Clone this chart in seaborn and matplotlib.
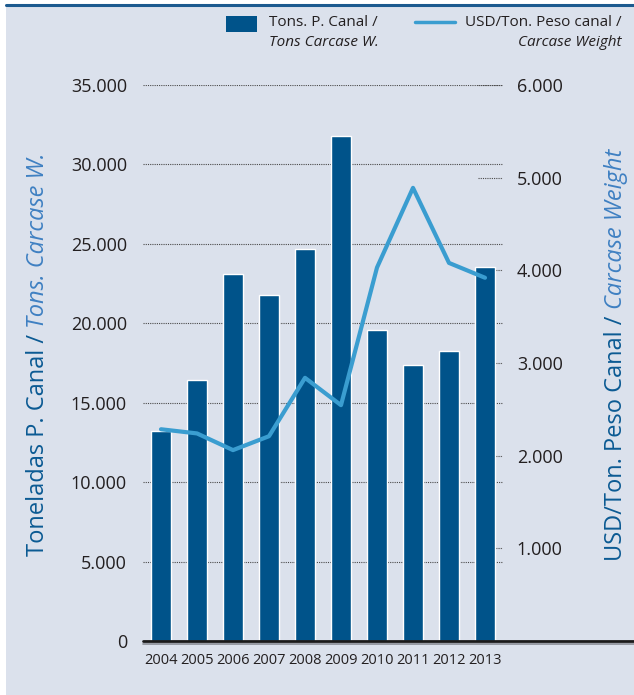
import numpy as np
import pandas as pd
import matplotlib
matplotlib.use("Agg")
import matplotlib.pyplot as plt
import seaborn as sns
from matplotlib.ticker import FuncFormatter
from matplotlib.patches import Rectangle
from matplotlib.lines import Line2D

# data
years = ["2004", "2005", "2006", "2007", "2008", "2009", "2010", "2011", "2012", "2013"]
tons = [13200, 16400, 23100, 21800, 24700, 31800, 19600, 17400, 18250, 23550]
usd_per_ton = [2285, 2240, 2060, 2210, 2840, 2545, 4030, 4890, 4080, 3920]
left_ticks = [0, 5000, 10000, 15000, 20000, 25000, 30000, 35000]
right_ticks = [1000, 2000, 3000, 4000, 5000, 6000]

bar_color = "#00538a"
line_color = "#3a9dd0"
panel = "#dbe1ec"
dark_blue = "#0b5a93"
light_blue = "#3f80c2"

sns.set_style("white")
plt.rcParams["font.family"] = ["Open Sans", "DejaVu Sans"]

W, H = 634, 695
fig = plt.figure(figsize=(W / 100, H / 100), dpi=100)
fig.patch.set_facecolor("white")

def fx(px):
    return px / W

def fy(py):
    return 1 - py / H

# background panel and top rule
fig.patches.append(Rectangle((fx(6), 0), 1 - fx(6), fy(6), transform=fig.transFigure,
                             facecolor=panel, edgecolor="none", zorder=-10))
fig.lines.append(Line2D([fx(6), 1], [fy(5), fy(5)], transform=fig.transFigure,
                        color="#1c5a8f", lw=2.2))

ax = fig.add_axes([fx(143), fy(641), fx(503) - fx(143), fy(85) - fy(641)])
ax.patch.set_alpha(0)
df = pd.DataFrame({"year": years, "tons": tons})
sns.barplot(data=df, x="year", y="tons", color=bar_color, saturation=1, width=0.56, ax=ax, zorder=3)
ax.set_xlim(-0.5, 9.5)
ax.set_ylim(0, 35000)
ax.set_yticks(left_ticks)
fmt = FuncFormatter(lambda v, p: f"{v:,.0f}".replace(",", "."))
ax.yaxis.set_major_formatter(fmt)
for v in left_ticks[1:]:
    ax.axhline(v, color="#4a4a4a", ls=(0, (1, 1)), lw=0.8, zorder=1)
# right-axis tick marks sit behind the bars
scale = 35000 / 6000
for v in right_ticks:
    ax.axhline(v * scale, xmin=(478 - 143) / 360, xmax=1, color="#4a4a4a", ls=(0, (1, 1)), lw=0.8, zorder=1)
for s in ax.spines.values():
    s.set_visible(False)
ax.tick_params(axis="y", length=0, pad=11.5, labelsize=13, labelcolor="#231f20")
ax.tick_params(axis="x", length=0, pad=9, labelsize=10.5, labelcolor="#231f20")
ax.set_xlabel("")
ax.set_ylabel("")

# baseline running out to the page edge
ax.plot([0, (634 - 143) / 360], [0, 0], transform=ax.transAxes, color="#1a1a1a", lw=2, clip_on=False, zorder=5)
fig.lines.append(Line2D([fx(143), 1], [fy(643.5), fy(643.5)], transform=fig.transFigure, color="#8a8d96", lw=1.2))

ax2 = ax.twinx()
ax2.patch.set_alpha(0)
sns.lineplot(x=np.arange(len(years)), y=usd_per_ton, color=line_color, lw=3, ax=ax2, zorder=6)
ax2.set_ylim(0, 6000)
ax2.set_yticks(right_ticks)
ax2.yaxis.set_major_formatter(fmt)
ax2.tick_params(axis="y", length=0, pad=10, labelsize=13, labelcolor="#231f20")
for s in ax2.spines.values():
    s.set_visible(False)
ax2.set_xlim(-0.5, 9.5)

# axis titles with mixed upright/italic parts
renderer = fig.canvas.get_renderer()

def vlabel(xc, ymid, parts, size):
    texts = []
    for txt, style, col in parts:
        t = fig.text(0, 0, txt, rotation=90, rotation_mode="anchor", ha="left", va="center",
                     fontsize=size, style=style, color=col)
        texts.append(t)
    lens = [t.get_window_extent(renderer).height for t in texts]
    y = ymid + sum(lens) / 2
    for t, L in zip(texts, lens):
        t.set_position((fx(xc), fy(y)))
        y -= L

vlabel(38, 354, [("Toneladas P. Canal / ", "normal", dark_blue),
                 ("Tons. Carcase W.", "italic", light_blue)], 17)
vlabel(616, 355, [("USD/Ton. Peso Canal / ", "normal", dark_blue),
                  ("Carcase Weight", "italic", light_blue)], 17)

# legend
fig.patches.append(Rectangle((fx(226), fy(32)), fx(257) - fx(226), fy(16) - fy(32),
                             transform=fig.transFigure, facecolor=bar_color, edgecolor="none"))
fig.text(fx(269), fy(23), "Tons. P. Canal /", fontsize=11, va="center", ha="left", color="#231f20")
fig.text(fx(269), fy(42), "Tons Carcase W.", fontsize=11, va="center", ha="left", style="italic", color="#231f20")
fig.lines.append(Line2D([fx(415), fx(455)], [fy(22), fy(22)], transform=fig.transFigure, color=line_color, lw=2.5))
fig.text(fx(622), fy(23), "USD/Ton. Peso canal /", fontsize=11, va="center", ha="right", color="#231f20")
fig.text(fx(622), fy(42), "Carcase Weight", fontsize=11, va="center", ha="right", style="italic", color="#231f20")

fig.savefig("out.png", dpi=100, facecolor=fig.get_facecolor())
